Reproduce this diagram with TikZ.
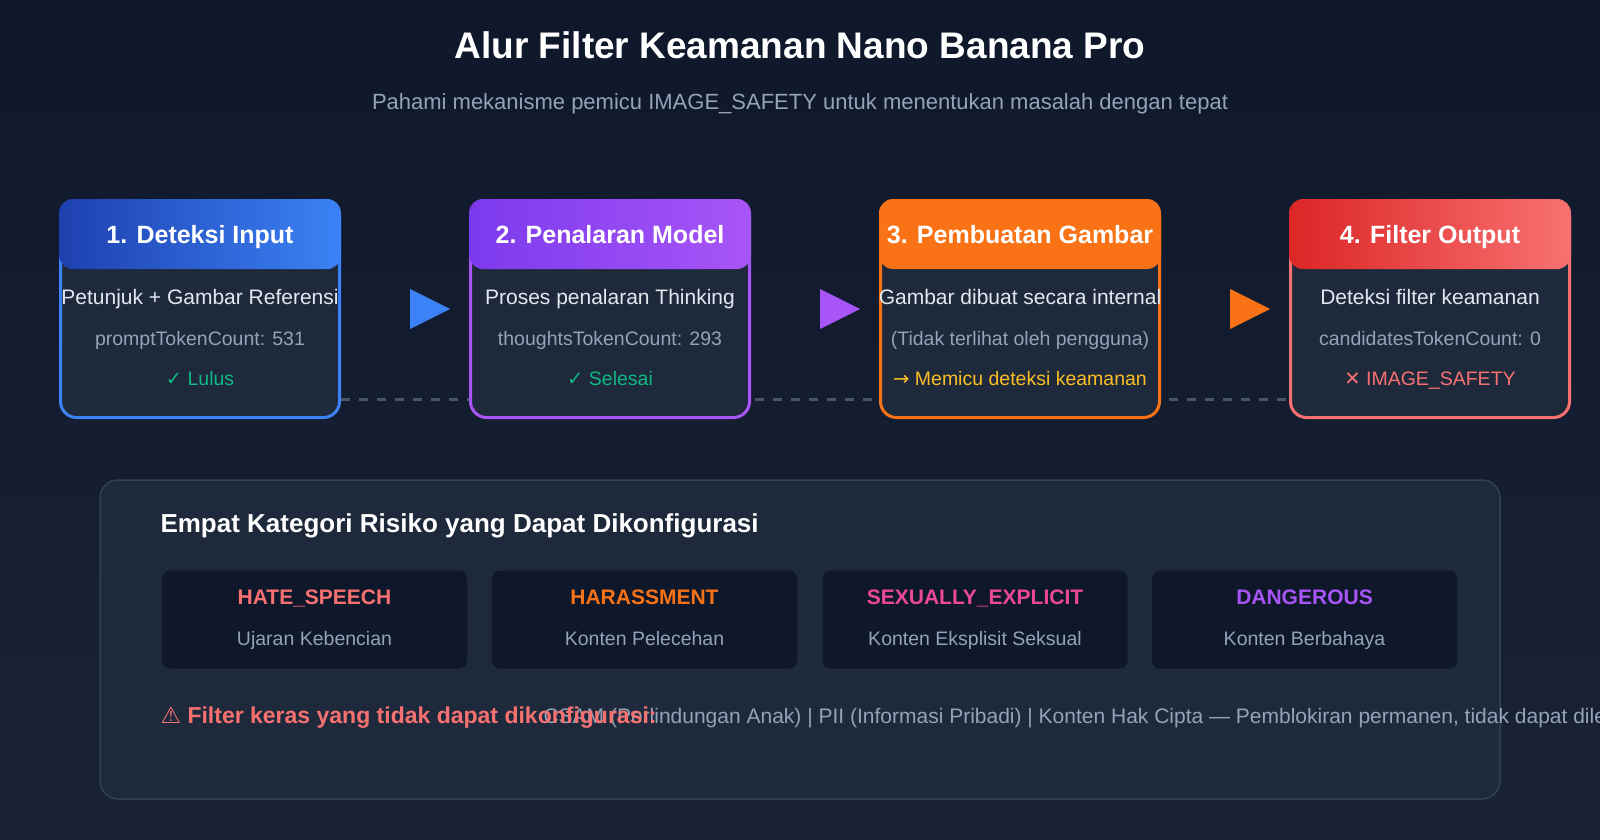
\documentclass[tikz,border=0pt]{standalone}
\usepackage{fontspec}
\setmainfont{Liberation Sans}
\newfontfamily\symf{DejaVu Sans}
\usetikzlibrary{calc}
\definecolor{bgA}{HTML}{0F172A}
\definecolor{bgB}{HTML}{1A2335}
\definecolor{boxfill}{HTML}{1E293B}
\definecolor{cardfill}{HTML}{0F172A}
\definecolor{panelline}{HTML}{334155}
\definecolor{txt}{HTML}{E2E8F0}
\definecolor{gry}{HTML}{94A3B8}
\definecolor{blueA}{HTML}{1E40AF}\definecolor{blueB}{HTML}{3B82F6}
\definecolor{purA}{HTML}{7C3AED}\definecolor{purB}{HTML}{A855F7}
\definecolor{ora}{HTML}{F97316}
\definecolor{redA}{HTML}{DC2626}\definecolor{redB}{HTML}{F87171}
\definecolor{grn}{HTML}{10B981}
\definecolor{yel}{HTML}{FBBF24}
\definecolor{pink}{HTML}{EC4899}
\definecolor{dashc}{HTML}{475569}
\tikzset{
 every node/.append style={text height=0.72em, text depth=0.22em},
 stepbox/.style={draw=#1, line width=3pt, fill=boxfill, rounded corners=16pt, minimum width=279pt, minimum height=217pt, inner sep=0pt, text height=, text depth=},
 headtxt/.style={text=white, font=\bfseries\fontsize{25}{29}\selectfont},
 maintxt/.style={text=txt, font=\fontsize{21}{25}\selectfont},
 subtxt/.style={text=gry, font=\fontsize{19.5}{23}\selectfont},
 card/.style={fill=cardfill, rounded corners=8pt, minimum width=305pt, minimum height=98pt, inner sep=0pt, text height=, text depth=},
 cardtitle/.style={font=\bfseries\fontsize{21}{25}\selectfont},
}
\begin{document}
\begin{tikzpicture}[x=1pt,y=-1pt]
\useasboundingbox (0,0) rectangle (1600,840);
\shade[top color=bgA, bottom color=bgB] (0,0) rectangle (1600,840);
\node[text=white, font=\bfseries\fontsize{37}{40}\selectfont] (title) at (800,56) {Alur Filter Keamanan Nano Banana Pro};
\node[text=gry, font=\fontsize{22}{25}\selectfont] (subtitle) at (800,107) {Pahami mekanisme pemicu IMAGE\_SAFETY untuk menentukan masalah dengan tepat};
% dashed line
\coordinate (dl) at (341,399); \coordinate (dr) at (1290,399);
\draw[dashc, line width=3pt, dash pattern=on 9pt off 9pt] (dl) -- (dr);
% boxes
\foreach \n/\x/\c/\cl/\cr in {1/200/blueB/blueA/blueB, 2/610/purB/purA/purB, 3/1020/ora/ora/ora, 4/1430/redB/redA/redB}{
 \node[stepbox=\c] (b\n) at (\x,309) {};
 \shade[left color=\cl, right color=\cr, rounded corners=14pt] ($(b\n.north west)+(0,0)$) rectangle ($(b\n.north east)+(0,70)$);
}
\node[headtxt] (h1) at (200,241) {1. Deteksi Input};
\node[headtxt] (h2) at (610,241) {2. Penalaran Model};
\node[headtxt] (h3) at (1020,241) {3. Pembuatan Gambar};
\node[headtxt] (h4) at (1430,241) {4. Filter Output};
\node[maintxt] (m1) at (200,302) {Petunjuk + Gambar Referensi};
\node[maintxt] (m2) at (610,302) {Proses penalaran Thinking};
\node[maintxt] (m3) at (1020,302) {Gambar dibuat secara internal};
\node[maintxt] (m4) at (1430,302) {Deteksi filter keamanan};
\node[subtxt] (s1) at (200,343) {promptTokenCount: 531};
\node[subtxt] (s2) at (610,343) {thoughtsTokenCount: 293};
\node[subtxt] (s3) at (1020,343) {(Tidak terlihat oleh pengguna)};
\node[subtxt] (s4) at (1430,343) {candidatesTokenCount: 0};
\node[subtxt, text=grn] (r1) at (200,383) {{\symf ✓} Lulus};
\node[subtxt, text=grn] (r2) at (610,383) {{\symf ✓} Selesai};
\node[subtxt, text=yel] (r3) at (1020,383) {{\symf →} Memicu deteksi keamanan};
\node[subtxt, text=redB] (r4) at (1430,383) {{\symf ✕} IMAGE\_SAFETY};
% arrows
\foreach \x/\c/\n in {410/blueB/a1, 820/purB/a2, 1230/ora/a3}{
 \coordinate (\n) at (\x,309);
 \fill[\c] ($(\n)+(0,-20)$) -- ($(\n)+(40,0)$) -- ($(\n)+(0,20)$) -- cycle;
}
% bottom panel
\node[draw=panelline, line width=1.5pt, fill=boxfill, rounded corners=18pt, minimum width=1400pt, minimum height=319pt, inner sep=0pt, text height=, text depth=] (panel) at (800,639.5) {};
\node[anchor=west, text=white, font=\bfseries\fontsize{26}{29}\selectfont] (ptitle) at (157,530) {Empat Kategori Risiko yang Dapat Dikonfigurasi};
\foreach \n/\x/\c/\t/\s in {1/314.5/redB/HATE\_SPEECH/Ujaran Kebencian, 2/644.5/ora/HARASSMENT/Konten Pelecehan, 3/975/pink/SEXUALLY\_EXPLICIT/Konten Eksplisit Seksual, 4/1304.5/purB/DANGEROUS/Konten Berbahaya}{
 \node[card] (c\n) at (\x,619.5) {};
 \node[cardtitle, text=\c] (ct\n) at (\x,602) {\t};
 \node[subtxt] (cs\n) at (\x,643) {\s};
}
\node[anchor=west, subtxt, text=gry, font=\fontsize{21}{25}\selectfont] (hard) at (540,721) {CSAM (Perlindungan Anak) | PII (Informasi Pribadi) | Konten Hak Cipta — Pemblokiran permanen, tidak dapat dilewati};
\node[anchor=west, text=redB, font=\bfseries\fontsize{23}{26}\selectfont] (warn) at (157,721) {{\symf\mdseries ⚠} Filter keras yang tidak dapat dikonfigurasi:};
\end{tikzpicture}
\end{document}
